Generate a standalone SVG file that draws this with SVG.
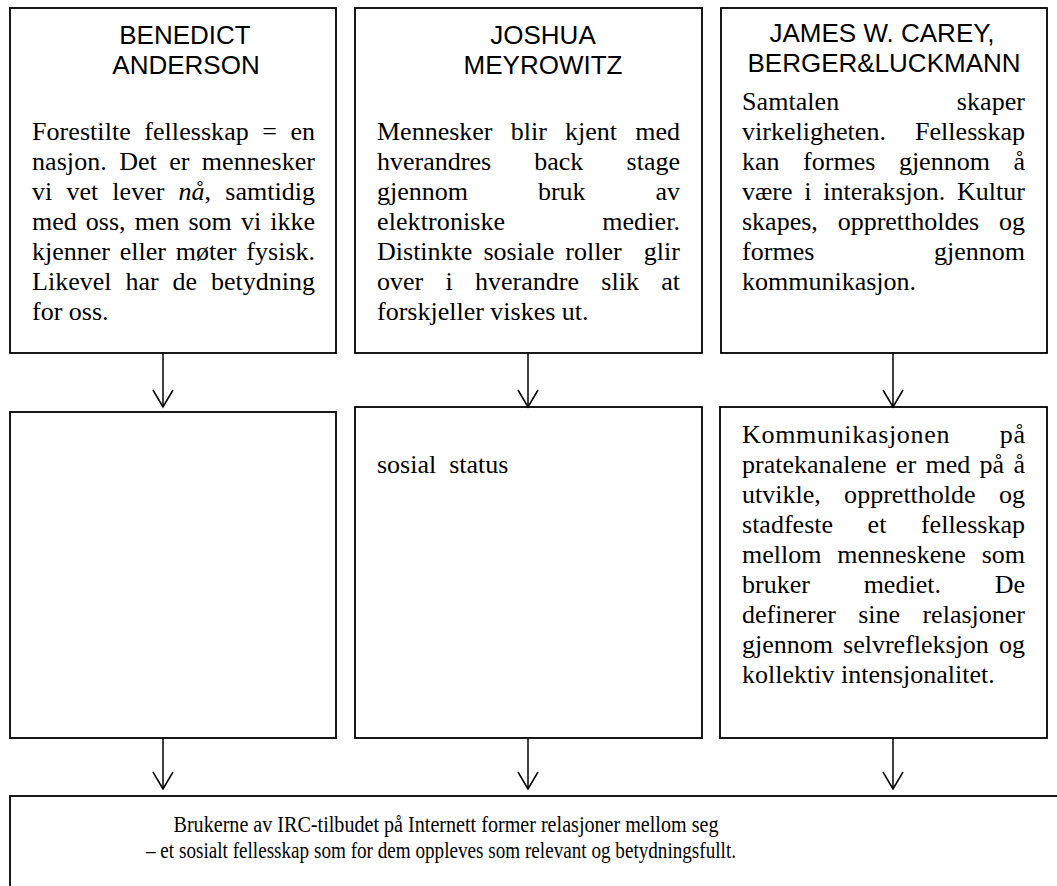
<svg xmlns="http://www.w3.org/2000/svg" width="1057" height="886" viewBox="0 0 1057 886">
<defs>
<style>
.box{fill:#fff;stroke:#000;stroke-width:1.8}
.hd{font-family:"Liberation Sans",Arial,sans-serif;font-size:26px;text-anchor:middle;fill:#000}
.bd{font-family:"Liberation Serif","Times New Roman",serif;font-size:26px;fill:#000}
.ft{font-family:"Liberation Serif","Times New Roman",serif;font-size:23px;text-anchor:middle;fill:#000}
.con{stroke:#000;stroke-width:1.5;fill:none}
</style>
<marker id="arr" viewBox="-2 -2 22 24" refX="17" refY="10" markerWidth="22" markerHeight="24" markerUnits="userSpaceOnUse" orient="auto">
<path d="M0,0 L17,10 L0,20" fill="none" stroke="#000" stroke-width="1.5"/>
</marker>
</defs>
<rect width="1057" height="886" fill="#fff"/>

<g id="anderson">
<rect class="box" x="10" y="8" width="326" height="345"/>
<text class="hd" x="185" y="44">BENEDICT</text>
<text class="hd" x="186" y="74">ANDERSON</text>
<text class="bd" x="32" y="140" word-spacing="6.9" textLength="283" lengthAdjust="spacing">Forestilte fellesskap = en</text>
<text class="bd" x="32" y="170" word-spacing="5.7" textLength="283" lengthAdjust="spacing">nasjon. Det er mennesker</text>
<text class="bd" x="32" y="200" word-spacing="7.6" textLength="283" lengthAdjust="spacing">vi vet lever <tspan font-style="italic">nå</tspan>, samtidig</text>
<text class="bd" x="32" y="230" word-spacing="2.6" textLength="283" lengthAdjust="spacing">med oss, men som vi ikke</text>
<text class="bd" x="32" y="260" word-spacing="3.3" textLength="283" lengthAdjust="spacing">kjenner eller møter fysisk.</text>
<text class="bd" x="32" y="290" word-spacing="7.4" textLength="283" lengthAdjust="spacing">Likevel har de betydning</text>
<text class="bd" x="32" y="320">for oss.</text>
</g>

<g id="meyrowitz">
<rect class="box" x="355" y="8" width="347" height="345"/>
<text class="hd" x="543" y="44">JOSHUA</text>
<text class="hd" x="543" y="74">MEYROWITZ</text>
<text class="bd" x="377" y="140" word-spacing="11.7" textLength="303" lengthAdjust="spacing">Mennesker blir kjent med</text>
<text class="bd" x="377" y="170" word-spacing="36.7" textLength="303" lengthAdjust="spacing">hverandres back stage</text>
<text class="bd" x="377" y="200" word-spacing="63.3" textLength="303" lengthAdjust="spacing">gjennom bruk av</text>
<text class="bd" x="377" y="230" word-spacing="90.3" textLength="303" lengthAdjust="spacing">elektroniske medier.</text>
<text class="bd" x="377" y="260" word-spacing="4.6" textLength="303" lengthAdjust="spacing" xml:space="preserve">Distinkte sosiale roller  glir</text>
<text class="bd" x="377" y="290" word-spacing="15.8" textLength="303" lengthAdjust="spacing">over i hverandre slik at</text>
<text class="bd" x="377" y="320">forskjeller viskes ut.</text>
</g>

<g id="carey">
<rect class="box" x="721" y="8" width="326" height="345"/>
<text class="hd" x="882" y="42">JAMES W. CAREY,</text>
<text class="hd" x="884" y="72">BERGER&amp;LUCKMANN</text>
<text class="bd" x="742" y="110" word-spacing="111" textLength="283" lengthAdjust="spacing">Samtalen skaper</text>
<text class="bd" x="742" y="140" word-spacing="22.6" textLength="283" lengthAdjust="spacing">virkeligheten. Fellesskap</text>
<text class="bd" x="742" y="170" word-spacing="17.1" textLength="283" lengthAdjust="spacing">kan formes gjennom å</text>
<text class="bd" x="742" y="200" word-spacing="5.2" textLength="283" lengthAdjust="spacing">være i interaksjon. Kultur</text>
<text class="bd" x="742" y="230" word-spacing="13.3" textLength="283" lengthAdjust="spacing">skapes, opprettholdes og</text>
<text class="bd" x="742" y="260" word-spacing="113" textLength="283" lengthAdjust="spacing">formes gjennom</text>
<text class="bd" x="742" y="290">kommunikasjon.</text>
</g>

<g id="mid-left">
<rect class="box" x="10" y="412" width="326" height="326"/>
</g>

<g id="mid-center">
<rect class="box" x="355" y="407" width="347" height="331"/>
<text class="bd" x="377" y="473" xml:space="preserve">sosial  status</text>
</g>

<g id="mid-right">
<rect class="box" x="720" y="407" width="327" height="331"/>
<text class="bd" x="742" y="443" word-spacing="42.5" textLength="283" lengthAdjust="spacing">Kommunikasjonen på</text>
<text class="bd" x="742" y="473" word-spacing="2.8" textLength="283" lengthAdjust="spacing">pratekanalene er med på å</text>
<text class="bd" x="742" y="503" word-spacing="16.8" textLength="283" lengthAdjust="spacing">utvikle, opprettholde og</text>
<text class="bd" x="742" y="533" word-spacing="28" textLength="283" lengthAdjust="spacing">stadfeste et fellesskap</text>
<text class="bd" x="742" y="563" word-spacing="9.3" textLength="283" lengthAdjust="spacing">mellom menneskene som</text>
<text class="bd" x="742" y="593" word-spacing="47.2" textLength="283" lengthAdjust="spacing">bruker mediet. De</text>
<text class="bd" x="742" y="623" word-spacing="15.8" textLength="283" lengthAdjust="spacing">definerer sine relasjoner</text>
<text class="bd" x="742" y="653" word-spacing="3.7" textLength="283" lengthAdjust="spacing">gjennom selvrefleksjon og</text>
<text class="bd" x="742" y="683">kollektiv intensjonalitet.</text>
</g>

<g id="conclusion">
<rect class="box" x="10" y="796" width="1100" height="200"/>
<text class="ft" x="446" y="832" textLength="545" lengthAdjust="spacingAndGlyphs">Brukerne av IRC-tilbudet på Internett former relasjoner mellom seg</text>
<text class="ft" x="441" y="858" textLength="590" lengthAdjust="spacingAndGlyphs">– et sosialt fellesskap som for dem oppleves som relevant og betydningsfullt.</text>
</g>

<g id="connectors">
<path class="con" d="M163,353 V407" marker-end="url(#arr)"/>
<path class="con" d="M528,353 V407" marker-end="url(#arr)"/>
<path class="con" d="M893,353 V407" marker-end="url(#arr)"/>
<path class="con" d="M163,738 V789" marker-end="url(#arr)"/>
<path class="con" d="M528,738 V789" marker-end="url(#arr)"/>
<path class="con" d="M893,738 V789" marker-end="url(#arr)"/>
</g>
</svg>
